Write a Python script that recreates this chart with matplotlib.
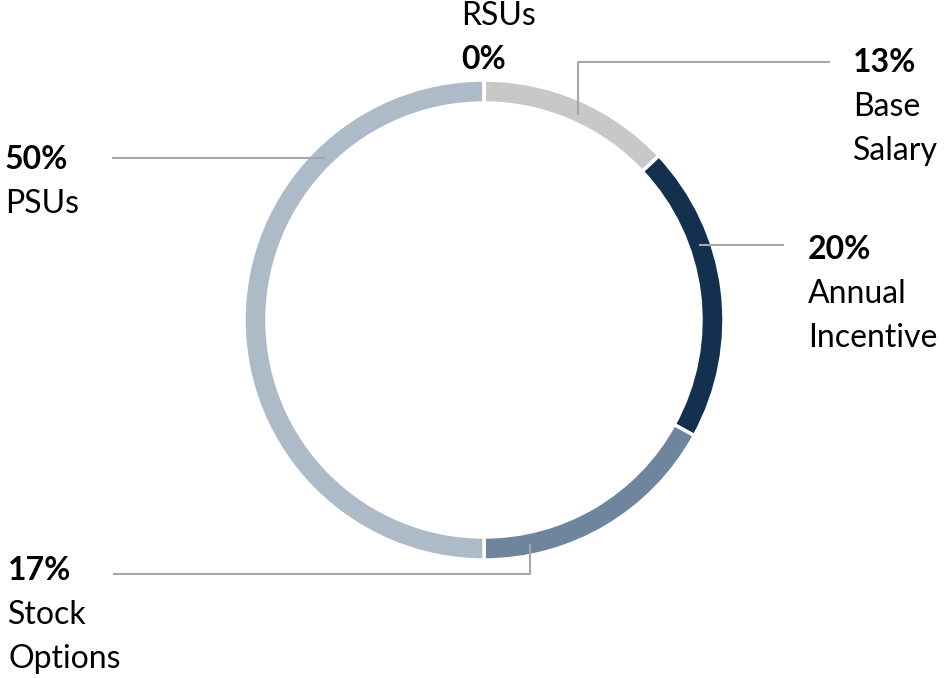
import numpy as np
import matplotlib.pyplot as plt

#========== DATA ==========#

labels = ["Base\nSalary", "Annual\nIncentive", "Stock\nOptions", "PSUs", "RSUs"]
pct_labels = ["13%", "20%", "17%", "50%", "0%"]
values = [13, 20, 17, 50, 0]
colors = ["#c8c8c8", "#14304f", "#6f849d", "#adbac8", "#adbac8"]

#========== LAYOUT ==========#

W, H = 948, 678
CX, CY = 484, 320          # pixel centre of the ring
R, RING = 240, 23


def fy(y):
    """pixel y (top down) -> data y (bottom up)"""
    return H - y


def ring_point(deg, r=229):
    """point on the ring, deg measured clockwise from 12 o'clock"""
    a = np.radians(deg)
    return CX + r * np.sin(a), fy(CY - r * np.cos(a))


fig = plt.figure(figsize=(W / 100, H / 100), dpi=100)
ax = fig.add_axes([0, 0, 1, 1])
ax.set_xlim(0, W)
ax.set_ylim(0, H)
ax.set_aspect("equal")
ax.axis("off")

ax.pie(values, colors=colors, startangle=90, counterclock=False,
       radius=R, center=(CX, fy(CY)),
       wedgeprops=dict(width=RING, edgecolor="white", linewidth=2.5))
ax.set_xlim(0, W)
ax.set_ylim(0, H)

# leader lines
line_kw = dict(color="#a6a6a6", lw=1.5, solid_capstyle="butt")
x0, y0 = ring_point(24.6, 225)
ax.plot([x0, x0, 830], [y0, fy(62), fy(62)], **line_kw)
x0, y0 = ring_point(70.8, 228)
ax.plot([x0, 784], [y0, y0], **line_kw)
x0, y0 = ring_point(168.4, 229)
ax.plot([x0, x0, 113], [y0, fy(574), fy(574)], **line_kw)
x0, y0 = ring_point(315.5, 227)
ax.plot([x0, 112], [y0, y0], **line_kw)

# labels: (x, baseline of pct, pct first?)
FONT = "Lato"
FS = 23
LS = 44
text_pos = {
    "13%": (853, 72, True),
    "20%": (808, 259, True),
    "17%": (8, 580, True),
    "50%": (5, 169, True),
    "0%": (461, 25, False),
}
for lab, pct in zip(labels, pct_labels):
    x, yb, pct_first = text_pos[pct]
    lines = lab.split("\n")
    if pct_first:
        ax.text(x, fy(yb), pct, fontsize=FS, fontweight="bold", family=FONT,
                va="baseline", ha="left")
        for i, ln in enumerate(lines):
            ax.text(x, fy(yb + LS * (i + 1)), ln, fontsize=FS, family=FONT,
                    va="baseline", ha="left")
    else:
        for i, ln in enumerate(lines):
            ax.text(x, fy(yb + LS * i), ln, fontsize=FS, family=FONT,
                    va="baseline", ha="left")
        ax.text(x, fy(yb + LS * len(lines)), pct, fontsize=FS,
                fontweight="bold", family=FONT, va="baseline", ha="left")

fig.savefig("out.png", dpi=100)
